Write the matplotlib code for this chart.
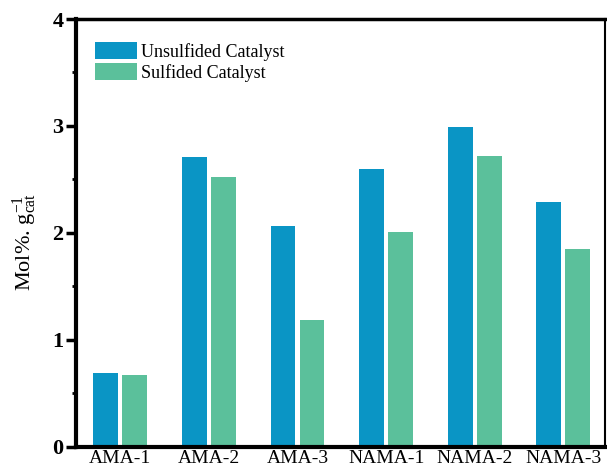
import numpy as np
import matplotlib
matplotlib.use("Agg")
import matplotlib.pyplot as plt
from matplotlib.ticker import MultipleLocator

plt.rcParams["font.family"] = ["Liberation Serif", "DejaVu Serif"]
plt.rcParams["mathtext.fontset"] = "custom"
plt.rcParams["mathtext.rm"] = "Liberation Serif"
plt.rcParams["mathtext.it"] = "Liberation Serif:italic"

categories = ["AMA-1", "AMA-2", "AMA-3", "NAMA-1", "NAMA-2", "NAMA-3"]
unsulfided = [0.69, 2.71, 2.07, 2.60, 2.99, 2.29]
sulfided = [0.67, 2.52, 1.19, 2.01, 2.72, 1.85]
series_labels = ["Unsulfided Catalyst", "Sulfided Catalyst"]

BLUE = "#0a95c5"
GREEN = "#5bc09b"

fig = plt.figure(figsize=(6.07, 4.68), dpi=100)
ax = fig.add_axes([0.1252, 0.0449, 0.8715, 0.9145])

x = np.arange(len(categories))
w = 0.28
off = 0.164
ax.bar(x - off, unsulfided, w, color=BLUE, label=series_labels[0])
ax.bar(x + off, sulfided, w, color=GREEN, label=series_labels[1])

ax.set_xlim(-0.5, 5.47)
ax.set_ylim(0, 4)
ax.set_xticks(x)
ax.set_xticklabels(categories, fontsize=14)
ax.yaxis.set_major_locator(MultipleLocator(1))
ax.yaxis.set_minor_locator(MultipleLocator(0.5))
ax.tick_params(axis="y", which="major", length=7, width=2.5, labelsize=16, pad=2)
ax.tick_params(axis="y", which="minor", length=3, width=2)
ax.tick_params(axis="x", length=0, pad=2)
for lab in ax.get_yticklabels():
    lab.set_fontweight("bold")

ax.spines["left"].set_linewidth(3)
ax.spines["bottom"].set_linewidth(3)
ax.spines["top"].set_linewidth(2.5)
ax.spines["right"].set_linewidth(1.5)

ax.set_ylabel(r"Mol%. $\mathrm{g}_{\mathrm{cat}}^{-1}$", fontsize=16)
ax.yaxis.set_label_coords(-0.07, 0.48)

ax.legend(loc="upper left", bbox_to_anchor=(0.036, 0.946), frameon=False,
          fontsize=13, borderpad=0, borderaxespad=0, handlelength=2.3,
          handleheight=1.1, handletextpad=0.25, labelspacing=0.1)

fig.savefig("out.png", dpi=100)
